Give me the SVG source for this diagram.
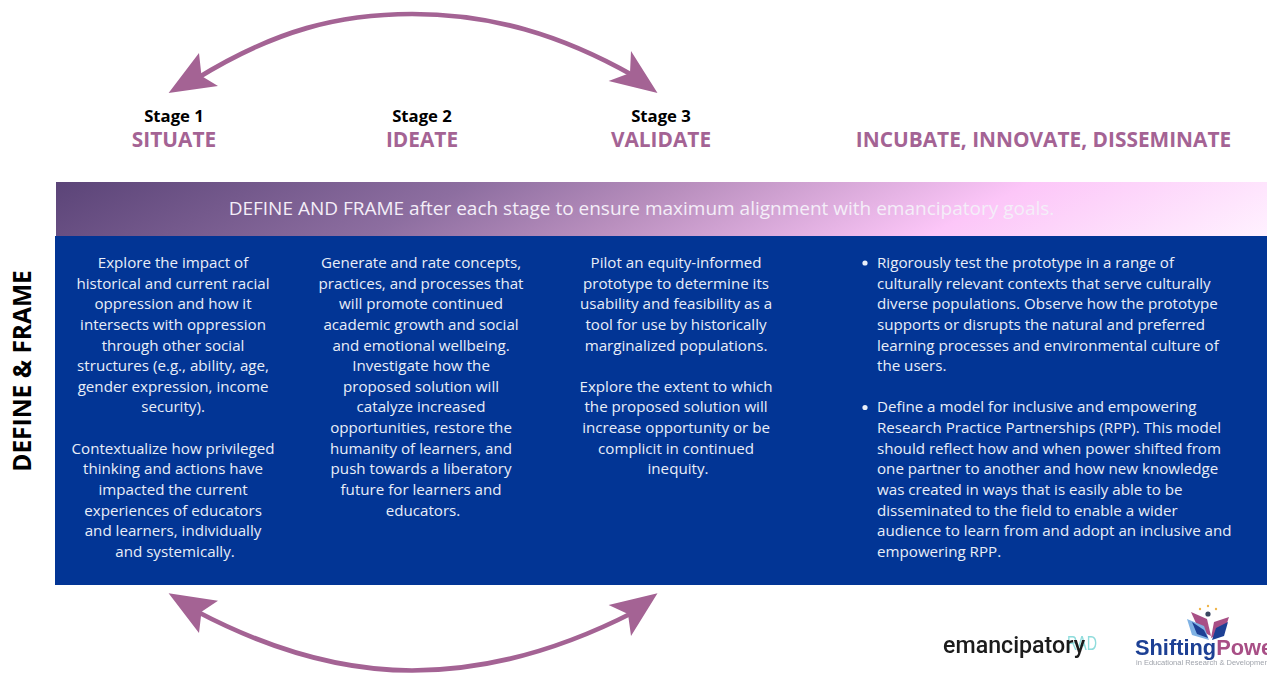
<svg xmlns="http://www.w3.org/2000/svg" width="1267" height="673" viewBox="0 0 1267 673">
<style>
text{font-family:"Open Sans","Noto Sans","Liberation Sans",sans-serif}
.stage{font-size:16.7px;font-weight:700;fill:#000;text-anchor:middle}
.name{font-size:20.85px;font-weight:700;fill:#a46394;text-anchor:middle}
.body{font-size:15.15px;fill:#e9eef8}
.c{text-anchor:middle}
.arc{fill:none;stroke:#a46394;stroke-width:4.7}
.head{fill:#a46394}
</style>
<defs>
<linearGradient id="band" x1="56" y1="182" x2="334" y2="720" gradientUnits="userSpaceOnUse">
<stop offset="0" stop-color="#5b4478"/>
<stop offset="0.317" stop-color="#8d6ea0"/>
<stop offset="0.484" stop-color="#b98fbe"/>
<stop offset="0.74" stop-color="#fcc6f8"/>
<stop offset="1" stop-color="#fff2ff"/>
</linearGradient>
<filter id="soft" x="-5%" y="-20%" width="110%" height="140%"><feGaussianBlur stdDeviation="0.6"/></filter>
</defs>
<rect id="band-bg" x="56" y="182" width="1211" height="54" fill="url(#band)"/>
<rect id="panel" x="55" y="236" width="1212" height="349" fill="#023595"/>
<g id="connectors">
<path class="arc" d="M196 79C275 30 340 14 412 14C490 14 560 34 634 76"/>
<polygon class="head" points="168.6,93 199,53 201.5,76 218,86"/>
<polygon class="head" points="657.5,93 631,51 630,73 608.6,81"/>
<path class="arc" d="M196 611C270 650 340 670.5 412 670.5C484 670.5 560 650 634 612"/>
<polygon class="head" points="168.6,593.3 199,633 201.5,611.7 218,600.7"/>
<polygon class="head" points="657.5,593.3 631,636 628,614 608.6,605"/>
</g>
<g id="stage-1"><text class="stage" x="174" y="122">Stage 1</text><text class="name" x="174" y="147">SITUATE</text></g>
<g id="stage-2"><text class="stage" x="422" y="122">Stage 2</text><text class="name" x="422" y="147">IDEATE</text></g>
<g id="stage-3"><text class="stage" x="661" y="122">Stage 3</text><text class="name" x="661" y="147">VALIDATE</text></g>
<g id="stage-4"><text class="name" x="1043.5" y="147">INCUBATE, INNOVATE, DISSEMINATE</text></g>
<g id="define-frame-side"><text transform="translate(31 371) rotate(-90)" text-anchor="middle" font-size="24.5" font-weight="700" fill="#000">DEFINE &amp; FRAME</text></g>
<g id="define-frame-band"><text x="641.5" y="215" text-anchor="middle" font-size="19" fill="#f4eef8">DEFINE AND FRAME after each stage to ensure maximum alignment with emancipatory goals.</text></g>
<g id="col-1"><text class="body c">
<tspan x="175" y="268">Explore the impact of</tspan>
<tspan x="175" y="288.6">historical and current racial</tspan>
<tspan x="175" y="309.3">oppression and how it</tspan>
<tspan x="175" y="330">intersects with oppression</tspan>
<tspan x="175" y="350.6">through other social</tspan>
<tspan x="175" y="371.2">structures (e.g., ability, age,</tspan>
<tspan x="175" y="391.8">gender expression, income</tspan>
<tspan x="175" y="412.4">security).</tspan>
<tspan x="175" y="453.7">Contextualize how privileged</tspan>
<tspan x="175" y="474.3">thinking and actions have</tspan>
<tspan x="175" y="494.9">impacted the current</tspan>
<tspan x="175" y="515.5">experiences of educators</tspan>
<tspan x="175" y="536.1">and learners, individually</tspan>
<tspan x="175" y="556.7">and systemically.</tspan>
</text></g>
<g id="col-2"><text class="body c">
<tspan x="423" y="268">Generate and rate concepts,</tspan>
<tspan x="423" y="288.6">practices, and processes that</tspan>
<tspan x="423" y="309.3">will promote continued</tspan>
<tspan x="423" y="330">academic growth and social</tspan>
<tspan x="423" y="350.6">and emotional wellbeing.</tspan>
<tspan x="423" y="371.2">Investigate how the</tspan>
<tspan x="423" y="391.8">proposed solution will</tspan>
<tspan x="423" y="412.4">catalyze increased</tspan>
<tspan x="423" y="433">opportunities, restore the</tspan>
<tspan x="423" y="453.7">humanity of learners, and</tspan>
<tspan x="423" y="474.3">push towards a liberatory</tspan>
<tspan x="423" y="494.9">future for learners and</tspan>
<tspan x="423" y="515.5">educators.</tspan>
</text></g>
<g id="col-3"><text class="body c">
<tspan x="678" y="268">Pilot an equity-informed</tspan>
<tspan x="678" y="288.6">prototype to determine its</tspan>
<tspan x="678" y="309.3">usability and feasibility as a</tspan>
<tspan x="678" y="330">tool for use by historically</tspan>
<tspan x="678" y="350.6">marginalized populations.</tspan>
<tspan x="678" y="391.8">Explore the extent to which</tspan>
<tspan x="678" y="412.4">the proposed solution will</tspan>
<tspan x="678" y="433">increase opportunity or be</tspan>
<tspan x="678" y="453.7">complicit in continued</tspan>
<tspan x="678" y="474.3">inequity.</tspan>
</text></g>
<g id="col-4">
<circle cx="865" cy="263" r="2.6" fill="#e9eef8"/>
<circle cx="865" cy="407.5" r="2.6" fill="#e9eef8"/>
<text class="body">
<tspan x="877" y="268">Rigorously test the prototype in a range of</tspan>
<tspan x="877" y="288.6">culturally relevant contexts that serve culturally</tspan>
<tspan x="877" y="309.3">diverse populations. Observe how the prototype</tspan>
<tspan x="877" y="330">supports or disrupts the natural and preferred</tspan>
<tspan x="877" y="350.6">learning processes and environmental culture of</tspan>
<tspan x="877" y="371.2">the users.</tspan>
<tspan x="877" y="412.4">Define a model for inclusive and empowering</tspan>
<tspan x="877" y="433">Research Practice Partnerships (RPP). This model</tspan>
<tspan x="877" y="453.7">should reflect how and when power shifted from</tspan>
<tspan x="877" y="474.3">one partner to another and how new knowledge</tspan>
<tspan x="877" y="494.9">was created in ways that is easily able to be</tspan>
<tspan x="877" y="515.5">disseminated to the field to enable a wider</tspan>
<tspan x="877" y="536.1">audience to learn from and adopt an inclusive and</tspan>
<tspan x="877" y="556.7">empowering RPP.</tspan>
</text></g>
<g id="logo-emancipatory" filter="url(#soft)">
<text x="1067" y="650" font-size="21" fill="#8fdcdc" textLength="30" lengthAdjust="spacingAndGlyphs" style="font-family:'Liberation Sans',sans-serif">RAD</text>
<text x="943" y="653" font-size="23" font-weight="500" fill="#1a1a1a" textLength="142" lengthAdjust="spacingAndGlyphs" style="font-family:'Roboto',sans-serif">emancipatory</text>
</g>
<g id="logo-shifting-power" filter="url(#soft)">
<polygon points="1191,612 1207,619 1211,636 1199,630" fill="#a84f86"/>
<polygon points="1187,619 1204,626 1209,640 1192,635" fill="#7fb2e4"/>
<polygon points="1192,622 1204,630 1208,638 1197,634" fill="#1c3f94"/>
<polygon points="1229,617 1214,622 1211,638 1224,632" fill="#a84f86"/>
<polygon points="1228,622 1216,628 1212,640 1224,636" fill="#1c3f94"/>
<circle cx="1208" cy="614" r="2.6" fill="#3b4660"/>
<circle cx="1200" cy="609" r="1.2" fill="#f0b64a"/>
<circle cx="1208" cy="606" r="1.2" fill="#f0b64a"/>
<circle cx="1216" cy="609" r="1.2" fill="#f0b64a"/>
<text x="1135" y="655" font-size="21.8" font-weight="900" style="font-family:'Liberation Sans',sans-serif"><tspan fill="#1c3f94">Shifting</tspan><tspan fill="#a84f86">Power</tspan></text>
<text x="1136" y="665" font-size="7.5" fill="#a0a4ac" style="font-family:'Liberation Sans',sans-serif">in Educational Research &amp; Development</text>
</g>
</svg>
